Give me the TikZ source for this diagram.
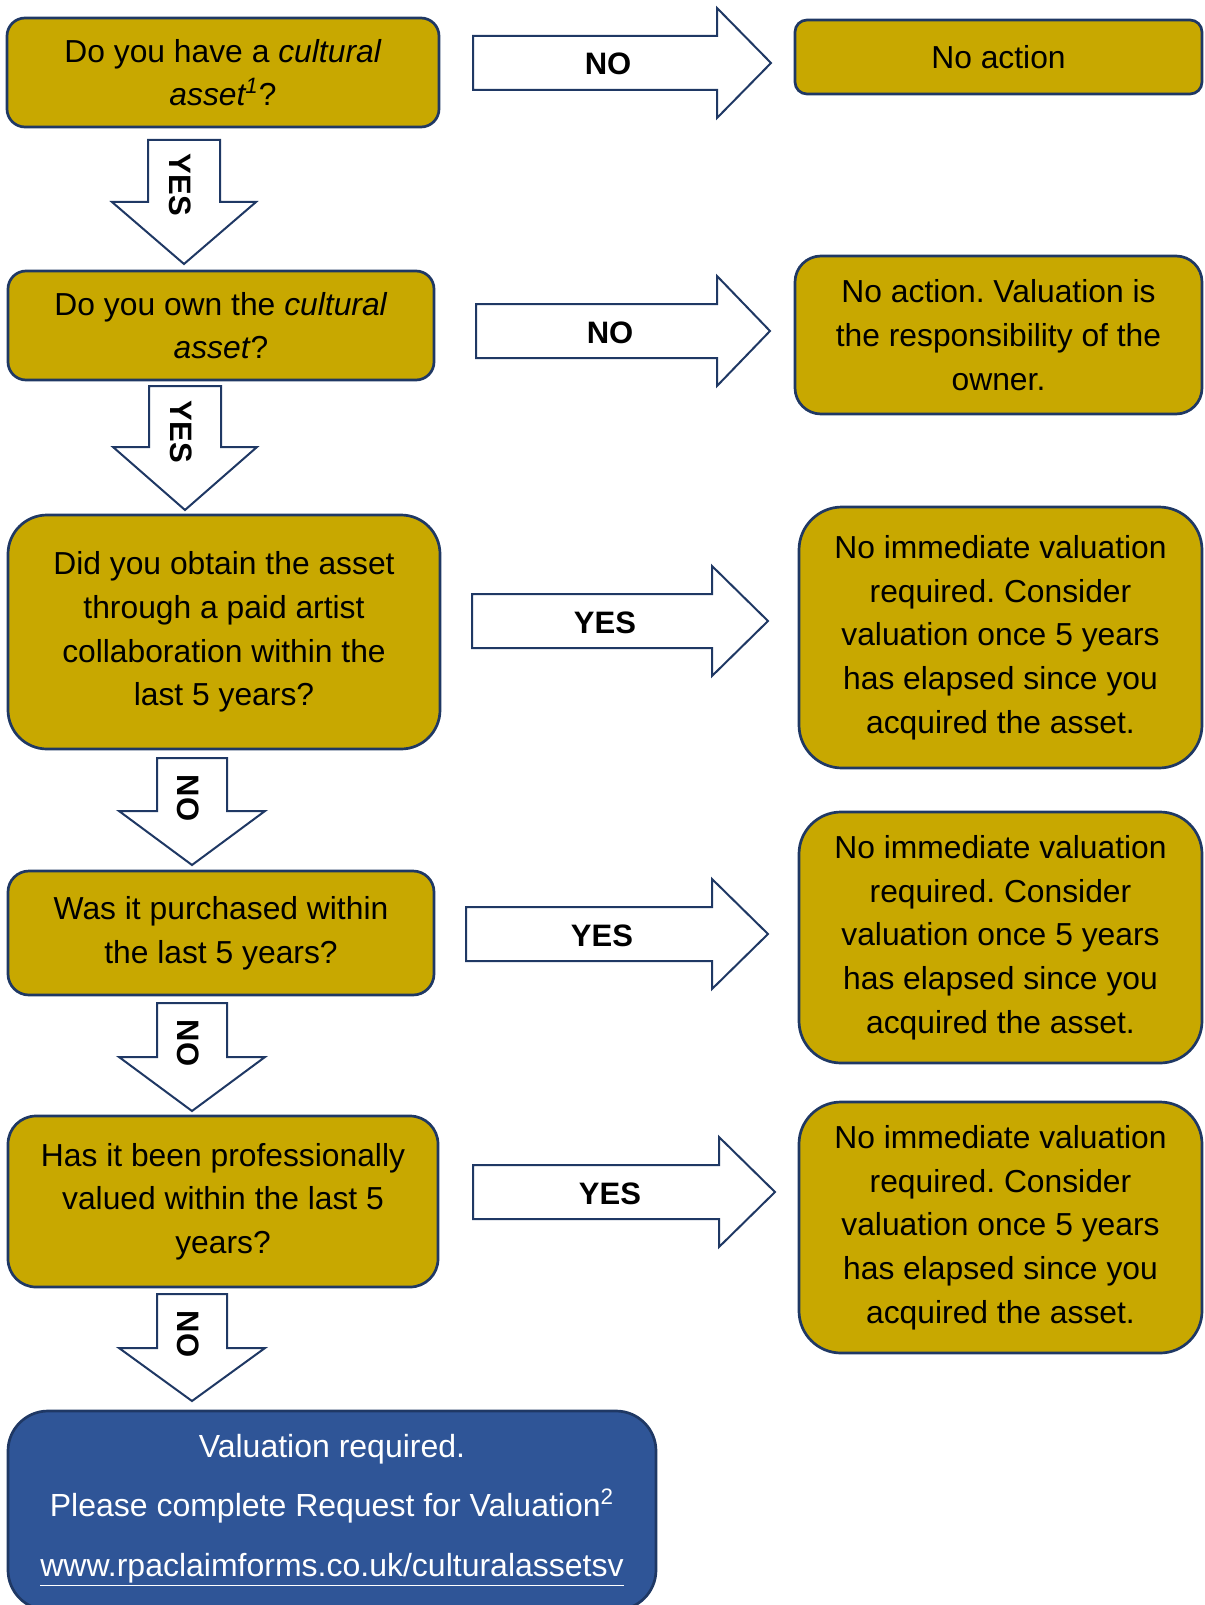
\documentclass[tikz,border=0pt]{standalone}
\usepackage{fontspec}
\setmainfont{Liberation Sans}
\frenchspacing
\definecolor{gold}{RGB}{200,168,0}
\definecolor{navy}{RGB}{31,56,100}
\definecolor{valblue}{RGB}{47,85,151}
\newcommand{\boxfont}{\fontsize{15.9}{21.85}\selectfont}
\newcommand{\valfont}{\fontsize{16}{29.7}\selectfont}
\newcommand{\lblfont}{\fontsize{15.5}{18}\selectfont\bfseries}

\begin{document}
\begin{tikzpicture}[x=0.5pt, y=-0.5pt,
    qbox/.style={draw=navy, line width=1.35pt, fill=gold, align=center, font=\boxfont, inner sep=0pt},
    valbox/.style={draw=navy, line width=1.35pt, fill=valblue, text=white, align=center, font=\valfont, inner sep=0pt},
    blockarrow/.style={draw=navy, line width=1pt, fill=white, line join=miter},
    arrowlabel/.style={font=\lblfont, inner sep=0pt}]
    \useasboundingbox (0,0) rectangle (1204,1605);
    \clip (0,0) rectangle (1204,1605);

    % Questions (left column)
    \node[qbox, minimum width=216pt, minimum height=54.5pt, rounded corners=9pt] (have) at (223,72.5)
        {Do you have a \textit{cultural}\\\textit{asset\textsuperscript{1}}?};
    \node[qbox, minimum width=213pt, minimum height=54.5pt, rounded corners=9pt] (own) at (221,325.5)
        {Do you own the \textit{cultural}\\\textit{asset}?};
    \node[qbox, minimum width=216pt, minimum height=117pt, rounded corners=19.5pt] (collab) at (224,632)
        {Did you obtain the asset\\through a paid artist\\collaboration within the\\last 5 years?};
    \node[qbox, minimum width=213pt, minimum height=62pt, rounded corners=10.5pt] (bought) at (221,933)
        {Was it purchased within\\the last 5 years?};
    \node[qbox, minimum width=215pt, minimum height=85.5pt, rounded corners=14pt] (valued) at (223,1201.5)
        {Has it been professionally\\valued within the last 5\\years?};

    % Outcomes (right column)
    \node[qbox, minimum width=203.5pt, minimum height=37pt, rounded corners=6pt] (noaction) at (998.5,57)
        {No action};
    \node[qbox, minimum width=203.5pt, minimum height=79pt, rounded corners=13pt] (owner) at (998.5,335)
        {No action. Valuation is\\the responsibility of the\\owner.};
    \node[qbox, minimum width=201.5pt, minimum height=130.5pt, rounded corners=21.5pt] (paid) at (1000.5,637.5)
        {No immediate valuation\\required. Consider\\valuation once 5 years\\has elapsed since you\\acquired the asset.};
    \node[qbox, minimum width=201.5pt, minimum height=125.5pt, rounded corners=21pt] (purchased) at (1000.5,937.5)
        {No immediate valuation\\required. Consider\\valuation once 5 years\\has elapsed since you\\acquired the asset.};
    \node[qbox, minimum width=201.5pt, minimum height=125.5pt, rounded corners=21pt] (recent) at (1000.5,1227.5)
        {No immediate valuation\\required. Consider\\valuation once 5 years\\has elapsed since you\\acquired the asset.};

    % Final step
    \node[valbox, minimum width=324pt, minimum height=99.5pt, rounded corners=20pt] (required) at (332,1510.5)
        {Valuation required.\\Please complete Request for Valuation\textsuperscript{2}\\\underline{www.rpaclaimforms.co.uk/culturalassetsv}};

    % Block arrows to the right
    \foreach \xa/\xb/\xt/\yc in {473/717/771/63, 476/717/770/331, 472/712/768/621, 466/712/768/934, 473/719/775/1192}
        \draw[blockarrow] (\xa,\yc-27) -- (\xb,\yc-27) -- (\xb,\yc-55) -- (\xt,\yc)
            -- (\xb,\yc+55) -- (\xb,\yc+27) -- (\xa,\yc+27) -- cycle;

    % Block arrows downwards
    \foreach \xc/\ya/\yb/\yt/\sw/\hw in {184/140/202/264/36/72, 185/386/447/510/36/72, 192/758/811/865/35/73, 192/1003/1057/1111/35/73, 192/1294/1348/1401/35/73}
        \draw[blockarrow] (\xc-\sw,\ya) -- (\xc+\sw,\ya) -- (\xc+\sw,\yb) -- (\xc+\hw,\yb)
            -- (\xc,\yt) -- (\xc-\hw,\yb) -- (\xc-\sw,\yb) -- cycle;

    % Arrow labels
    \node[arrowlabel] (no1) at (608,64) {NO};
    \node[arrowlabel] (no2) at (610,333) {NO};
    \node[arrowlabel] (yes3) at (605,623) {YES};
    \node[arrowlabel] (yes4) at (602,936) {YES};
    \node[arrowlabel] (yes5) at (610,1194) {YES};
    \node[arrowlabel, rotate=-90] (yes1) at (180,185) {YES};
    \node[arrowlabel, rotate=-90] (yes2) at (181,432) {YES};
    \node[arrowlabel, rotate=-90] (no3) at (188,798) {NO};
    \node[arrowlabel, rotate=-90] (no4) at (188,1043) {NO};
    \node[arrowlabel, rotate=-90] (no5) at (188,1334) {NO};
\end{tikzpicture}
\end{document}
